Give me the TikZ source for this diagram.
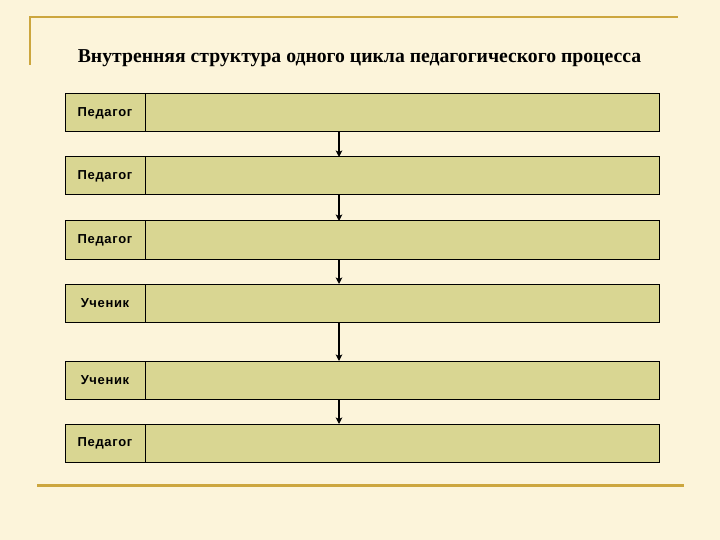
\documentclass[tikz,border=0pt]{standalone}
\usepackage{fontspec}
\setmainfont{Liberation Serif}
\newfontfamily\labelfont[LetterSpace=5]{Liberation Sans}
\usetikzlibrary{positioning,arrows.meta}
\definecolor{paper}{RGB}{252,244,218}
\definecolor{gold}{RGB}{204,166,62}
\definecolor{olive}{RGB}{217,214,146}

\begin{document}
\begin{tikzpicture}[x=1pt,y=-1pt,
  cell/.style={draw,line width=1pt,fill=olive,minimum height=38pt,inner sep=0pt,outer sep=0pt,
    font=\labelfont\bfseries\fontsize{13}{15}\selectfont},
  rolecell/.style={cell,minimum width=80pt},
  taskcell/.style={cell,minimum width=514pt},
  flow/.style={-{Stealth[length=6.5pt,width=6.5pt,inset=1.5pt]},line width=1.4pt}]
  \useasboundingbox[fill=paper] (0,0) rectangle (720,540);
  % frame
  \draw[gold,line width=2pt] (30,65) -- (30,17.5) -- (678,17.5);
  \draw[gold,line width=2.5pt] (37,485.5) -- (684,485.5);
  \node[anchor=base,font=\bfseries\fontsize{19.7}{22}\selectfont](title) at (359.5,63)
    {Внутренняя структура одного цикла педагогического процесса};

  % rows
  \node[rolecell,anchor=north west](role1) at (65,94){Педагог};
  \node[taskcell,right=0pt of role1](task1){};
  \node[rolecell,below=25pt of role1](role2){Педагог};
  \node[taskcell,right=0pt of role2](task2){};
  \node[rolecell,below=26pt of role2](role3){Педагог};
  \node[taskcell,right=0pt of role3](task3){};
  \node[rolecell,below=25pt of role3](role4){Ученик};
  \node[taskcell,right=0pt of role4](task4){};
  \node[rolecell,below=39pt of role4](role5){Ученик};
  \node[taskcell,right=0pt of role5](task5){};
  \node[rolecell,below=25pt of role5](role6){Педагог};
  \node[taskcell,right=0pt of role6](task6){};

  % arrows
  \coordinate (ax) at (339,0);
  \path[flow]
  (task1.south -| ax) edge (task2.north -| ax)
  (task2.south -| ax) edge (task3.north -| ax)
  (task3.south -| ax) edge (task4.north -| ax)
  (task4.south -| ax) edge (task5.north -| ax)
  (task5.south -| ax) edge (task6.north -| ax);
\end{tikzpicture}
\end{document}
